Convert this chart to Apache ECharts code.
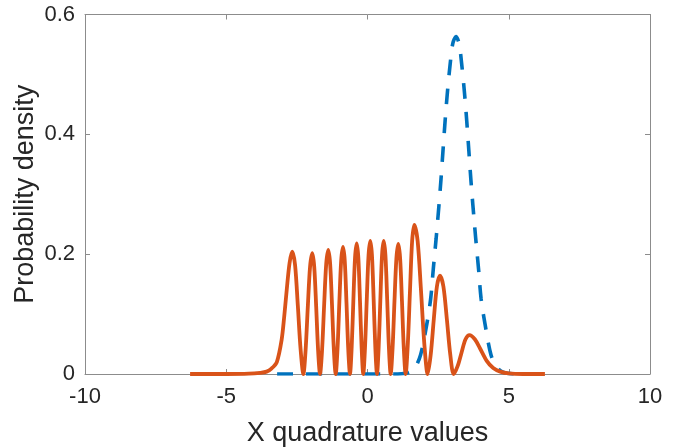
<!DOCTYPE html>
<html>
<head>
<meta charset="utf-8">
<script src="https://cdn.jsdelivr.net/npm/echarts@6/dist/echarts.min.js"></script>
<style>html,body{margin:0;padding:0;background:#fff}#c{width:679px;height:448px}</style>
</head>
<body>
<div id="c"></div>
<script>
// Axis ticks
const xTicks = [-10, -5, 0, 5, 10];
const yTicks = [0, 0.2, 0.4, 0.6];

// Blue dashed curve
const blueX = [-3.2, -1.0, 0.5, 1.2, 1.5, 1.7, 1.88, 2.095, 2.237, 2.33, 2.43, 2.53, 2.6, 2.67, 2.745, 2.83, 2.93, 3.02, 3.13, 3.24, 3.33, 3.43, 3.515, 3.59, 3.66, 3.73, 3.83, 3.93, 4.02, 4.165, 4.37, 4.56, 4.8, 5.2];
const blueY = [0, 0, 0, 0.0005, 0.003, 0.012, 0.032, 0.082, 0.126, 0.176, 0.2265, 0.282, 0.324, 0.371, 0.421, 0.471, 0.519, 0.552, 0.563, 0.552, 0.519, 0.471, 0.421, 0.371, 0.324, 0.282, 0.2265, 0.176, 0.126, 0.082, 0.032, 0.012, 0.003, 0];

// Orange solid curve
const orangeX = [-6.28, -5.0, -4.2, -3.8, -3.57, -3.4, -3.21, -3.04, -2.95, -2.86, -2.76, -2.662,
  -2.564, -2.466, -2.368, -2.27,
  -2.191, -2.112, -2.033, -1.954, -1.886, -1.817, -1.749, -1.68,
  -1.607, -1.534, -1.461, -1.388, -1.3225, -1.257, -1.1915, -1.126,
  -1.061, -0.997, -0.932, -0.867, -0.805, -0.744, -0.682, -0.62,
  -0.5605, -0.501, -0.4415, -0.382, -0.324, -0.266, -0.208, -0.15,
  -0.088, -0.026, 0.037, 0.099, 0.158, 0.218, 0.277, 0.336,
  0.395, 0.455, 0.514, 0.573, 0.635, 0.697, 0.758, 0.82,
  0.888, 0.955, 1.023, 1.09, 1.155, 1.22, 1.285, 1.35,
  1.427, 1.504, 1.580, 1.657, 1.775, 1.894, 2.012, 2.13,
  2.239, 2.348, 2.457, 2.566, 2.687, 2.808, 2.929, 3.05,
  3.19, 3.33, 3.47, 3.61, 3.8, 3.98, 4.22, 4.45, 4.7, 5.0, 5.5, 6.28];
const orangeY = [0, 0, 0.0005, 0.002, 0.004, 0.009, 0.02, 0.057, 0.095, 0.14, 0.185, 0.204,
  0.182, 0.114, 0.041, 0,
  0.040, 0.113, 0.179, 0.2015, 0.179, 0.113, 0.040, 0,
  0.041, 0.116, 0.184, 0.207, 0.184, 0.116, 0.041, 0,
  0.042, 0.119, 0.189, 0.212, 0.189, 0.119, 0.042, 0,
  0.044, 0.122, 0.194, 0.218, 0.194, 0.122, 0.044, 0,
  0.044, 0.124, 0.198, 0.222, 0.198, 0.124, 0.044, 0,
  0.044, 0.124, 0.198, 0.222, 0.198, 0.124, 0.044, 0,
  0.043, 0.1215, 0.193, 0.217, 0.193, 0.1215, 0.043, 0,
  0.050, 0.139, 0.222, 0.249, 0.222, 0.139, 0.050, 0,
  0.033, 0.092, 0.146, 0.164, 0.146, 0.092, 0.033, 0,
  0.013, 0.036, 0.058, 0.065, 0.058, 0.043, 0.022, 0.01, 0.004, 0.001, 0, 0];

const FONT = "'Liberation Sans', Arial, Helvetica, sans-serif";
const TXT = '#262626';
const AX = '#8c8c8c';

const chart = echarts.init(document.getElementById('c'), null, {renderer: 'canvas'});
const baseAxis = {
  axisLine: {show: true, onZero: false, lineStyle: {color: AX, width: 1}},
  axisTick: {show: true, inside: true, length: 5, lineStyle: {color: AX, width: 1}},
  splitLine: {show: false}
};
chart.setOption({
  animation: false,
  backgroundColor: '#ffffff',
  grid: {left: 85, right: 29, top: 14.5, bottom: 74, containLabel: false, outerBoundsMode: 'none'},
  xAxis: [
    Object.assign({}, baseAxis, {
      type: 'value', min: xTicks[0], max: xTicks[xTicks.length - 1], interval: 5, position: 'bottom',
      name: 'X quadrature values', nameLocation: 'middle', nameGap: 46,
      nameTextStyle: {fontFamily: FONT, fontSize: 27, color: TXT},
      axisLabel: {fontFamily: FONT, fontSize: 22, color: TXT, margin: 12}
    }),
    Object.assign({}, baseAxis, {
      type: 'value', min: xTicks[0], max: xTicks[xTicks.length - 1], interval: 5, position: 'top',
      axisLabel: {show: false}
    })
  ],
  yAxis: [
    Object.assign({}, baseAxis, {
      type: 'value', min: yTicks[0], max: yTicks[yTicks.length - 1], interval: 0.2, position: 'left',
      name: 'Probability density', nameLocation: 'middle', nameGap: 46, nameMoveOverlap: false,
      nameTextStyle: {fontFamily: FONT, fontSize: 27, color: TXT},
      axisLabel: {fontFamily: FONT, fontSize: 22, color: TXT, margin: 10}
    }),
    Object.assign({}, baseAxis, {
      type: 'value', min: yTicks[0], max: yTicks[yTicks.length - 1], interval: 0.2, position: 'right',
      axisLabel: {show: false}
    })
  ],
  series: [
    {
      type: 'line', xAxisIndex: 0, yAxisIndex: 0,
      data: blueX.map((x, i) => [x, blueY[i]]),
      showSymbol: false, smooth: 0.3,
      lineStyle: {color: '#0072BD', width: 3.6, type: [16, 13], cap: 'butt'},
      z: 2
    },
    {
      type: 'line', xAxisIndex: 0, yAxisIndex: 0,
      data: orangeX.map((x, i) => [x, orangeY[i]]),
      showSymbol: false, smooth: 0.3,
      lineStyle: {color: '#D95319', width: 3.8},
      z: 3
    }
  ]
});
</script>
</body>
</html>
